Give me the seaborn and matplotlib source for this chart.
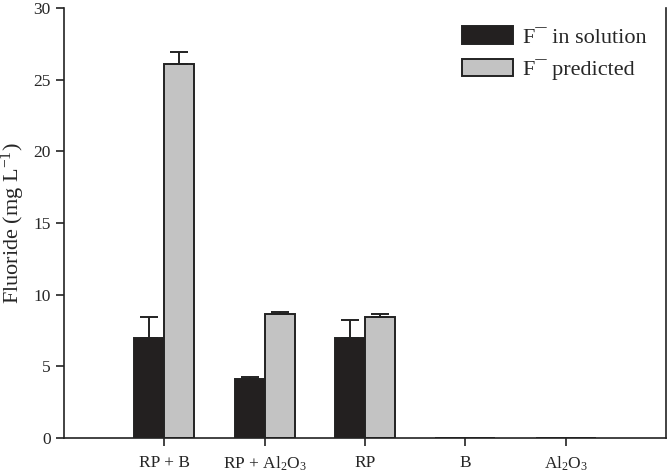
import numpy as np
import pandas as pd
import matplotlib
matplotlib.use('Agg')
import matplotlib.pyplot as plt
import seaborn as sns

# data
categories = ['RP + B', 'RP + Al$_2$O$_3$', 'RP', 'B', 'Al$_2$O$_3$']
in_solution = [7.0, 4.15, 6.95, 0.0, 0.0]
in_solution_err = [1.45, 0.1, 1.25, 0.0, 0.0]
predicted = [26.1, 8.62, 8.41, 0.0, 0.0]
predicted_err = [0.85, 0.2, 0.25, 0.0, 0.0]
series = ['F\u00af in solution', 'F\u00af predicted']

sns.set_style('ticks')
plt.rcParams['font.family'] = ['Liberation Serif', 'DejaVu Serif']
plt.rcParams['mathtext.fontset'] = 'custom'
plt.rcParams['mathtext.rm'] = 'Liberation Serif'
plt.rcParams['mathtext.it'] = 'Liberation Serif:italic'

df = pd.DataFrame({
    'cat': categories * 2,
    'series': [series[0]] * 5 + [series[1]] * 5,
    'val': in_solution + predicted,
})

fig = plt.figure(figsize=(6.67, 4.76), dpi=100)
ax = fig.add_axes([64 / 667, 38 / 476, 602 / 667, 430 / 476])

sns.barplot(data=df, x='cat', y='val', hue='series', order=categories,
            hue_order=series, palette=['#231f20', '#c3c3c3'], width=0.6,
            edgecolor='#222222', linewidth=1.4, errorbar=None, ax=ax)

# error bars (upper only), placed on the bars seaborn drew
bars = ax.patches[:10]
errs = in_solution_err + predicted_err
for bar, e in zip(bars, errs):
    if e <= 0:
        continue
    xc = bar.get_x() + bar.get_width() / 2
    top = bar.get_height()
    ax.errorbar(xc, top, yerr=[[0], [e]], fmt='none', ecolor='#222222',
                elinewidth=1.4, capsize=6.5, capthick=1.4)

ax.set_xlim(-1, 5)
ax.set_ylim(0, 30)
ax.set_yticks([0, 5, 10, 15, 20, 25, 30])
ax.set_xlabel('')
ax.set_ylabel('Fluoride (mg L$^{-1}$)', fontsize=16)
ax.yaxis.set_label_coords(-0.062, 0.5)
ax.tick_params(axis='both', labelsize=12.5, direction='out', length=6,
               width=1.2, color='#222222')
ax.tick_params(axis='x', pad=6)

for s in ['left', 'bottom', 'right']:
    ax.spines[s].set_linewidth(1.2)
    ax.spines[s].set_color('#222222')
ax.spines['top'].set_visible(False)

ax.legend(loc='upper left', bbox_to_anchor=(0.661, 0.958), frameon=False,
          fontsize=16, handlelength=2.32, handleheight=0.84, labelspacing=0.5,
          handletextpad=0.42, borderpad=0, borderaxespad=0)

fig.savefig('out.png', dpi=100)
